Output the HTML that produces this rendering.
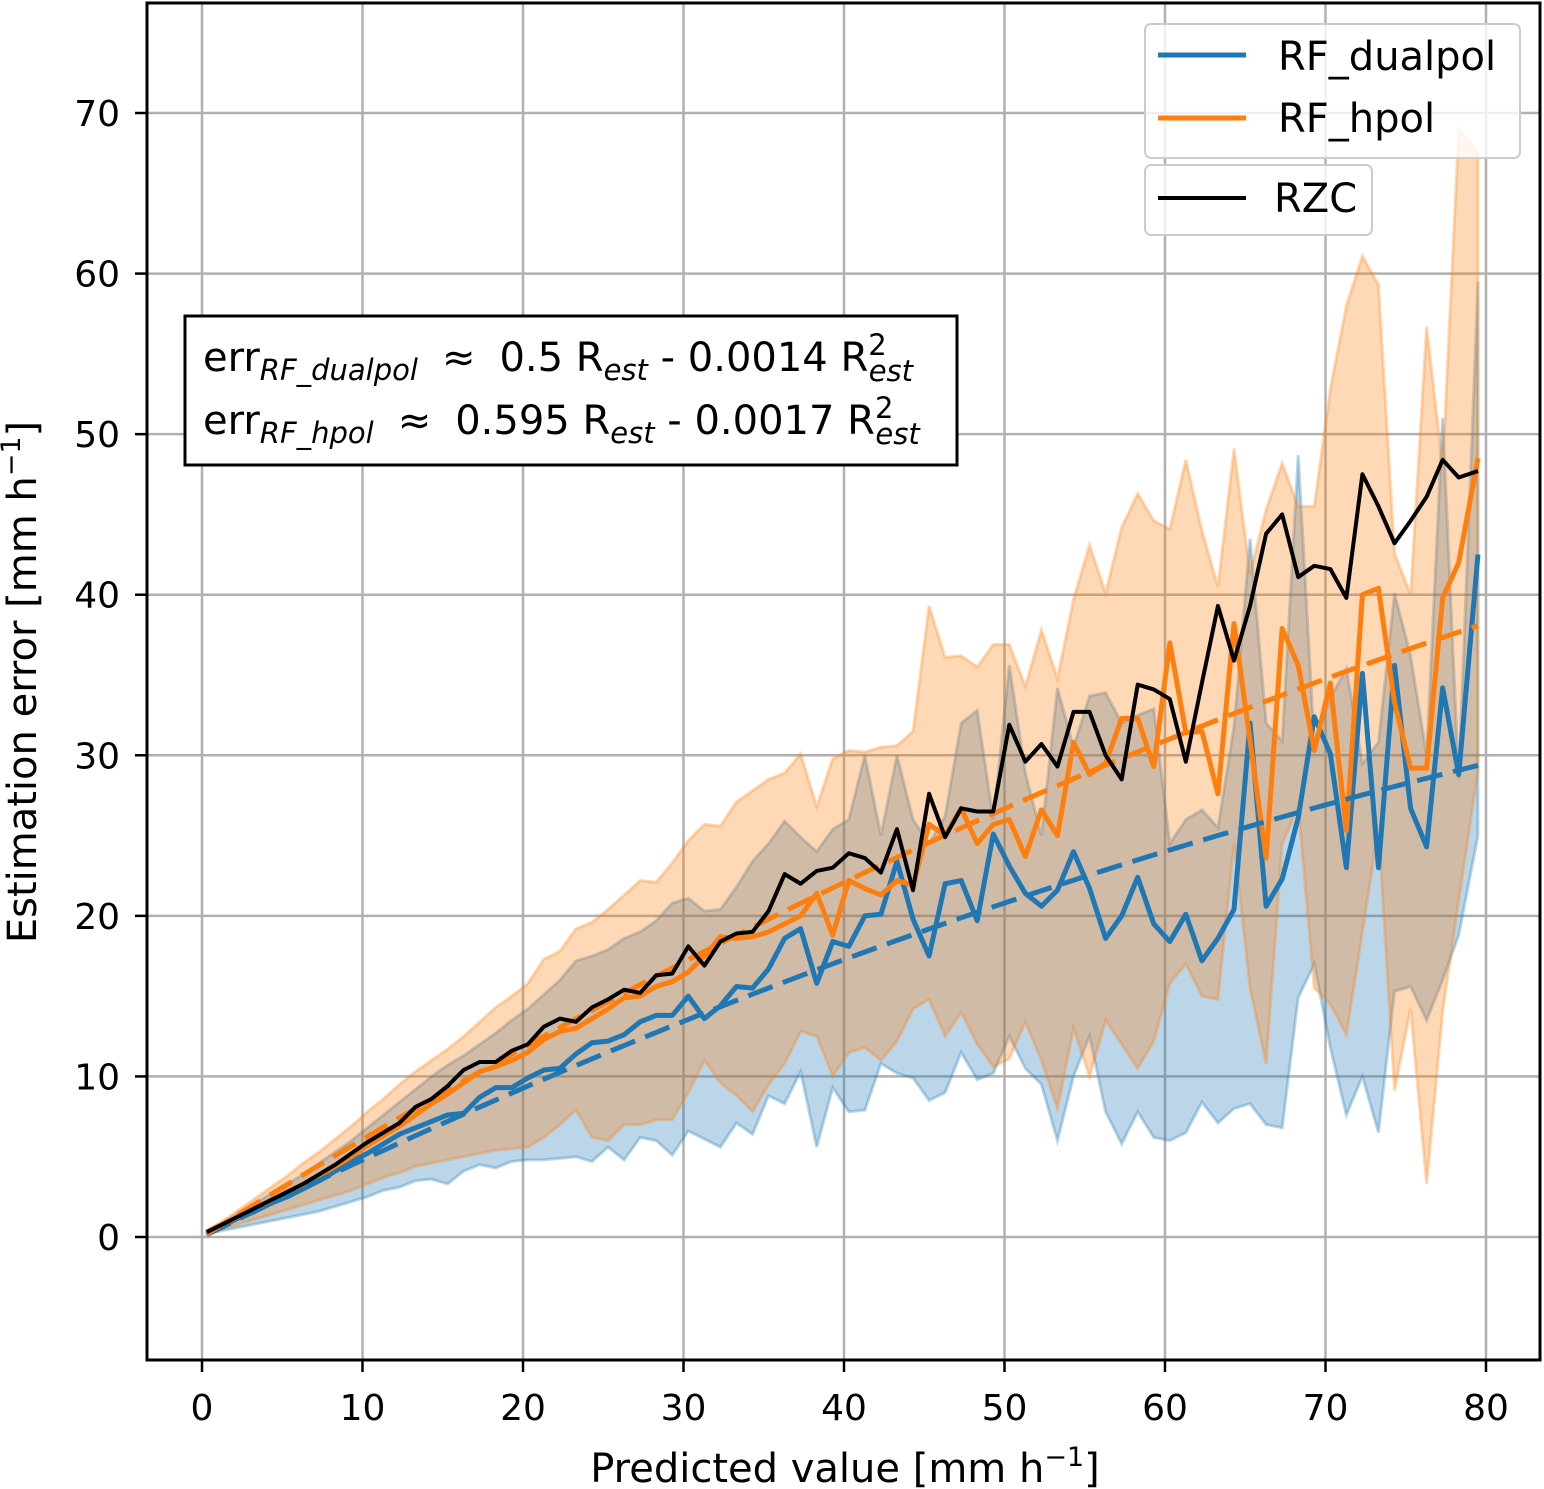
<!DOCTYPE html>
<html><head><meta charset="utf-8">
<style>
html,body{margin:0;padding:0;background:#fff;}
svg{display:block;font-family:"DejaVu Sans","Liberation Sans",sans-serif;}
</style></head>
<body>
<svg id="chart" width="1544" height="1489" viewBox="0 0 1544 1489" xmlns="http://www.w3.org/2000/svg">
<rect x="0" y="0" width="1544" height="1489" fill="#fff"/>
<g id="grid"></g>
<g id="bands"></g>
<g id="lines"></g>
<rect x="147" y="3" width="1393" height="1357" fill="none" stroke="#000" stroke-width="3"/>
<g id="ticks"></g>
<text x="845" y="1482" font-size="40" text-anchor="middle">Predicted value [mm h<tspan dy="-16" font-size="27">−1</tspan><tspan dy="16">]</tspan></text>
<text transform="translate(36,682) rotate(-90)" font-size="40" text-anchor="middle">Estimation error [mm h<tspan dy="-16" font-size="27">−1</tspan><tspan dy="16">]</tspan></text>
<g>
<rect x="185" y="316" width="772" height="149" fill="#fff" stroke="#000" stroke-width="3"/>
<text x="203" y="371" font-size="40">err<tspan dy="9" font-size="29" font-style="italic">RF_dualpol</tspan><tspan dy="-9" dx="24">≈</tspan><tspan dx="24">0.5 R</tspan><tspan dy="9" font-size="29" font-style="italic">est</tspan><tspan dy="-9"> - 0.0014 R</tspan><tspan dy="-16" font-size="29">2</tspan><tspan dx="-18" dy="26" font-size="29" font-style="italic">est</tspan></text>
<text x="203" y="434" font-size="40">err<tspan dy="9" font-size="29" font-style="italic">RF_hpol</tspan><tspan dy="-9" dx="24">≈</tspan><tspan dx="24">0.595 R</tspan><tspan dy="9" font-size="29" font-style="italic">est</tspan><tspan dy="-9"> - 0.0017 R</tspan><tspan dy="-16" font-size="29">2</tspan><tspan dx="-18" dy="26" font-size="29" font-style="italic">est</tspan></text>
</g>
<g>
<rect x="1145" y="24" width="375" height="134" rx="6" fill="#fff" fill-opacity="0.8" stroke="#ccc" stroke-width="2"/>
<line x1="1158" y1="55" x2="1246" y2="55" stroke="#1f77b4" stroke-width="5"/>
<text x="1278" y="70" font-size="40">RF_dualpol</text>
<line x1="1158" y1="118" x2="1246" y2="118" stroke="#ff7f0e" stroke-width="5"/>
<text x="1278" y="132" font-size="40">RF_hpol</text>
<rect x="1145" y="165" width="227" height="70" rx="6" fill="#fff" fill-opacity="0.8" stroke="#ccc" stroke-width="2"/>
<line x1="1158" y1="198" x2="1246" y2="198" stroke="#000" stroke-width="4"/>
<text x="1274" y="212" font-size="40">RZC</text>
</g>
</svg>
<script>
const xs=[0.3,1.3,2.3,3.3,4.3,5.3,6.3,7.3,8.3,9.3,10.3,11.3,12.3,13.3,14.3,15.3,16.3,17.3,18.3,19.3,20.3,21.3,22.3,23.3,24.3,25.3,26.3,27.3,28.3,29.3,30.3,31.3,32.3,33.3,34.3,35.3,36.3,37.3,38.3,39.3,40.3,41.3,42.3,43.3,44.3,45.3,46.3,47.3,48.3,49.3,50.3,51.3,52.3,53.3,54.3,55.3,56.3,57.3,58.3,59.3,60.3,61.3,62.3,63.3,64.3,65.3,66.3,67.3,68.3,69.3,70.3,71.3,72.3,73.3,74.3,75.3,76.3,77.3,78.3,79.5];
const rzc=[0.3,0.8,1.3,1.8,2.3,2.8,3.3,3.9,4.5,5.2,5.9,6.5,7.1,8.1,8.6,9.4,10.4,10.9,10.9,11.6,12,13.1,13.6,13.4,14.3,14.8,15.4,15.2,16.3,16.4,18.1,16.9,18.4,18.9,19,20.3,22.6,22,22.8,23,23.9,23.6,22.7,25.4,21.6,27.6,24.9,26.7,26.5,26.5,31.9,29.6,30.7,29.3,32.7,32.7,30,28.5,34.4,34.1,33.5,29.6,34.5,39.3,35.9,39.3,43.8,45,41.1,41.8,41.6,39.8,47.5,45.5,43.2,44.6,46.1,48.4,47.3,47.7];
const hpol=[0.3,0.8,1.3,1.8,2.3,2.8,3.3,3.8,4.4,5.0,5.7,6.3,6.9,7.6,8.3,8.9,9.6,10.3,10.6,11.0,11.5,12.3,12.8,13.0,13.6,14.2,14.9,15.0,15.6,15.9,16.5,17.5,18.7,18.6,18.7,19.0,19.5,20.0,21.4,18.8,22.2,21.7,21.3,22.2,21.9,25.7,25.0,26.7,24.5,25.7,26.0,23.7,26.6,25.0,30.8,28.8,29.5,32.3,32.3,29.3,37.0,31.4,31.5,27.6,38.2,30.9,23.6,37.9,35.6,30.3,34.5,25.3,40.0,40.4,33.3,29.2,29.2,39.8,42.0,48.5];
const dual=[0.3,0.7,1.2,1.6,2.1,2.5,3.0,3.5,4.1,4.7,5.2,5.8,6.4,6.8,7.2,7.6,7.7,8.7,9.3,9.3,9.9,10.4,10.5,11.4,12.1,12.2,12.6,13.4,13.8,13.8,15.0,13.6,14.4,15.6,15.5,16.7,18.6,19.2,15.8,18.4,18.1,20.0,20.1,23.4,19.8,17.5,22.0,22.2,19.7,25.1,23.1,21.4,20.6,21.6,24.0,21.7,18.6,20.0,22.4,19.5,18.4,20.1,17.2,18.6,20.4,32.0,20.6,22.3,26.1,32.4,30.1,23.0,35.1,23.0,35.6,26.7,24.3,34.2,28.8,42.5];
const hpolUpper=[0.4,1.0,1.7,2.4,3.1,3.8,4.6,5.3,6.1,6.9,7.8,8.6,9.5,10.3,11.0,11.7,12.5,13.4,14.3,15.0,15.8,17.3,17.8,19.2,19.6,20.4,21.3,22.2,22.1,23.3,24.7,25.7,25.6,27.1,27.8,28.5,28.9,30.1,26.8,29.8,30.3,30.2,30.5,30.6,31.5,39.3,36.1,36.2,35.5,36.9,36.9,34.3,37.8,34.8,39.7,43.1,40.1,44.2,46.3,44.6,44.1,48.4,44.0,40.5,49.1,41.3,45.3,48.2,45.5,45.5,52.8,58.0,61.1,59.3,42.6,40.0,56.7,48.0,69.0,67.5];
const hpolLower=[0.2,0.5,0.8,1.1,1.4,1.7,2.0,2.3,2.6,2.9,3.3,3.7,4.0,4.4,4.6,4.8,5.0,5.2,5.4,5.5,5.6,6.2,7.0,7.9,6.2,6.0,7.0,7.0,7.3,7.3,9.0,11.0,9.6,8.8,7.8,9.5,10.8,12.8,12.5,10.0,11.5,11.8,11.0,12.2,14.2,14.8,12.5,14.0,12.0,10.6,11.1,13.4,11.0,8.0,13.0,10.0,13.5,12.0,10.5,12.2,15.8,17.0,15.0,14.8,24.5,15.5,10.8,24.5,26.8,15.5,14.5,12.6,19.0,25.5,9.1,14.2,3.3,14.0,21.0,29.0];
const dualUpper=[0.4,0.9,1.5,2.1,2.7,3.3,3.9,4.6,5.3,6.0,6.8,7.6,8.4,9.2,10.0,10.7,11.3,12.0,12.7,13.5,14.2,15.1,16.0,17.2,17.5,17.9,18.6,19.0,19.7,20.8,21.1,20.3,20.4,21.8,23.4,24.5,25.9,24.9,24.0,25.4,26.0,30.0,25.0,30.0,26.0,24.5,26.2,32.0,32.8,26.0,35.6,28.9,25.0,34.2,30.5,33.7,33.9,32.0,32.5,32.9,24.5,26.0,26.6,25.5,31.8,43.5,32.0,30.9,48.7,30.8,33.6,35.4,29.5,30.8,40.1,36.2,30.0,51.0,28.5,59.5];
const dualLower=[0.2,0.4,0.6,0.8,1.0,1.2,1.4,1.6,1.9,2.2,2.5,2.9,3.1,3.5,3.6,3.3,4.1,4.5,4.3,4.7,4.8,4.8,4.9,5.0,4.7,5.6,4.8,6.2,6.0,5.1,6.6,6.1,5.6,7.1,6.4,8.8,8.3,10.3,5.6,9.3,7.8,7.9,10.8,10.2,9.9,8.5,9.0,11.5,9.8,10.2,12.5,10.5,9.5,6.0,10.0,12.5,7.8,5.8,7.8,6.2,6.0,6.5,8.4,7.1,8.0,8.3,7.0,6.8,14.9,17.0,11.8,7.6,10.0,6.5,15.3,15.6,13.5,16.0,18.8,25.0];
const fitDual=[0.495,-0.00158];
const fitHpol=[0.626,-0.00185];
const xTicks=[0,10,20,30,40,50,60,70,80];
const yTicks=[0,10,20,30,40,50,60,70];

const X=v=>202+v*16.05;
const Y=v=>1237-v*16.057;
const NS="http://www.w3.org/2000/svg";
function mk(tag,parent,attrs){const e=document.createElementNS(NS,tag);for(const k in attrs)e.setAttribute(k,attrs[k]);document.getElementById(parent).appendChild(e);return e;}
xTicks.forEach(t=>{
  const g=mk('line','grid',{x1:X(t),x2:X(t),y1:3,y2:1360,stroke:'#b0b0b0','stroke-width':2.5});
  
  
  const tk=mk('line','ticks',{x1:X(t),x2:X(t),y1:1360,y2:1372,stroke:'#000','stroke-width':2.5});
  
  
  const tl=mk('text','ticks',{x:X(t),y:1420,'font-size':36,'text-anchor':'middle'});
  tl.textContent=t;
  
  
});
yTicks.forEach(t=>{
  const g=mk('line','grid',{x1:147,x2:1540,y1:Y(t),y2:Y(t),stroke:'#b0b0b0','stroke-width':2.5});
  
  
  const tk=mk('line','ticks',{x1:135,x2:147,y1:Y(t),y2:Y(t),stroke:'#000','stroke-width':2.5});
  
  
  const tl=mk('text','ticks',{x:120,y:Y(t)+13,'font-size':36,'text-anchor':'end'});
  tl.textContent=t;
  
  
});
function band(up,lo,color,name){
  let d='M'+xs.map((x,i)=>X(x)+','+Y(up[i])).join('L');
  d+='L'+xs.map((x,i)=>[X(x),Y(lo[i])]).reverse().map(p=>p.join(',')).join('L')+'Z';
  const p=mk('path','bands',{d:d,fill:color,'fill-opacity':0.3,stroke:color,'stroke-opacity':0.3,'stroke-width':3});
  
  
}
band(dualUpper,dualLower,'#1f77b4','band-rf-dualpol');
band(hpolUpper,hpolLower,'#ff7f0e','band-rf-hpol');
function line(vals,color,w,name){
  const p=mk('polyline','lines',{points:xs.map((x,i)=>X(x)+','+Y(vals[i])).join(' '),fill:'none',stroke:color,'stroke-width':w,'stroke-linejoin':'round'});
  
  
}
function fit(c,color,name){
  const p=mk('polyline','lines',{points:xs.map(x=>X(x)+','+Y(c[0]*x+c[1]*x*x)).join(' '),fill:'none',stroke:color,'stroke-width':5,'stroke-dasharray':'26,11'});
  
  
}
line(dual,'#1f77b4',5,'line-rf-dualpol');
line(hpol,'#ff7f0e',5,'line-rf-hpol');
fit(fitDual,'#1f77b4','fit-rf-dualpol');
fit(fitHpol,'#ff7f0e','fit-rf-hpol');
line(rzc,'#000',4,'line-rzc');
</script>
</body></html>
